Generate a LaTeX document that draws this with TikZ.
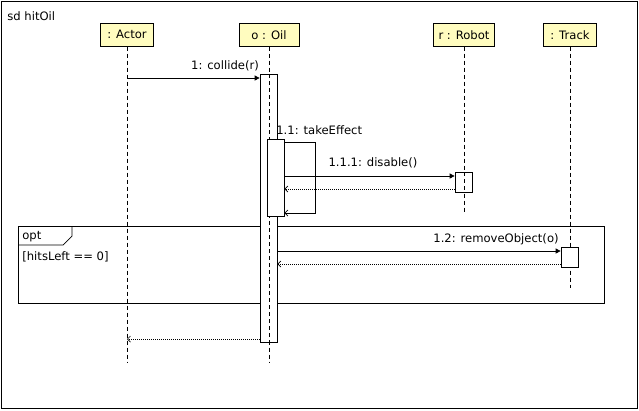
\documentclass[tikz,border=0pt]{standalone}
\usepackage{fontspec}
\setmainfont{DejaVu Sans}
\usetikzlibrary{arrows.meta}
\begin{document}
\begin{tikzpicture}[x=1pt,y=-1pt,
  font=\fontsize{11.6}{13}\selectfont,
  line width=0.7pt,
  every node/.style={inner sep=0pt},
  obj/.style={draw,fill=yellow!25,minimum height=23pt,anchor=north},
  life/.style={dash pattern=on 4pt off 3pt},
  act/.style={draw,fill=white},
  call/.style={-{Triangle[length=5pt,width=5pt]}},
  ret/.style={dash pattern=on 1pt off 1pt,-{Straight Barb[length=3pt,width=6pt]}},
  lbl/.style={anchor=base}
]
\useasboundingbox (0,0) rectangle (639,410);
\draw (1,1) rectangle (637,408);
\node[anchor=base west] (sd) at (7,20) {sd hitOil};

\node[obj,minimum width=53pt] (actor) at (127,23) {: Actor};
\node[obj,minimum width=60pt] (oil) at (269,23) {o : Oil};
\node[obj,minimum width=61pt] (robot) at (464,23) {r : Robot};
\node[obj,minimum width=53pt] (track) at (570,23) {: Track};

\coordinate (actorEnd) at (127,362);
\coordinate (oilEnd) at (269,362);
\coordinate (robotEnd) at (464,212);
\coordinate (trackEnd) at (570,288);
\draw[life] (actor.south) -- (actorEnd);
\draw[life] (oil.south) -- (oilEnd);
\draw[life] (robot.south) -- (robotEnd);
\draw[life] (track.south) -- (trackEnd);

% opt frame
\draw (18,226) rectangle (604,303);
\draw (18,245) -- (63,245) -- (72,236) -- (72,226);
\node[anchor=base west] (optlbl) at (22,239) {opt};
\node[anchor=base west] (guard) at (22,260) {[hitsLeft == 0]};

% activations
\node[act,minimum width=17pt,minimum height=268pt,anchor=north] (oilAct) at (268.5,74) {};
\draw[life] (269,74) -- (269,342);
\node[act,minimum width=17pt,minimum height=77pt,anchor=north] (oilAct2) at (275.5,139) {};
\node[act,minimum width=17pt,minimum height=20pt,anchor=north] (robotAct) at (463.5,172) {};
\draw[life] (464,172) -- (464,192);
\node[act,minimum width=17pt,minimum height=20pt,anchor=north] (trackAct) at (569.5,247) {};

% messages
\coordinate (a1) at (actor.south |- 0,78);
\draw[call] (a1) -- (oilAct.west |- a1);
\node[lbl] (m1) at (225,69) {1: collide(r)};

\node[anchor=base west] (m11) at (276,134) {1.1: takeEffect};
\draw[-{Straight Barb[length=3pt,width=6pt]}] (oilAct2.east |- 0,142) -- (315,142) -- (315,213) -- (oilAct2.east |- 0,213);

\coordinate (d1) at (oilAct2.east |- 0,176);
\draw[call] (d1) -- (robotAct.west |- d1);
\node[lbl] (m111) at (373,166) {1.1.1: disable()};
\coordinate (d2) at (robotAct.west |- 0,189);
\draw[ret] (d2) -- (oilAct2.east |- d2);

\coordinate (r1) at (oilAct.east |- 0,251);
\draw[call] (r1) -- (trackAct.west |- r1);
\node[lbl] (m12) at (496,242) {1.2: removeObject(o)};
\coordinate (r2) at (trackAct.west |- 0,264);
\draw[ret] (r2) -- (oilAct.east |- r2);

\coordinate (f1) at (oilAct.west |- 0,339);
\draw[ret] (f1) -- (actor.south |- f1);
\end{tikzpicture}
\end{document}
